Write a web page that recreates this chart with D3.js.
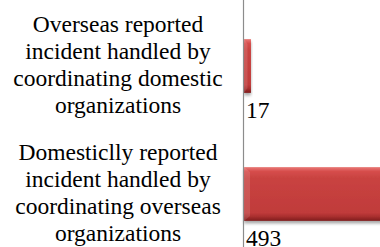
<!DOCTYPE html>
<html>
<head>
<meta charset="utf-8">
<script src="https://cdn.jsdelivr.net/npm/d3@7"></script>
<style>
  body { margin: 0; background: #fff; }
  svg { display: block; }
  text { font-family: "Liberation Serif", "Times New Roman", serif; fill: #000; }
</style>
</head>
<body>
<div id="chart"></div>
<script>
// data
const categories = [
  ["Overseas reported", "incident handled by", "coordinating domestic", "organizations"],
  ["Domesticlly reported", "incident handled by", "coordinating overseas", "organizations"]
];
const values = [17, 493];
const valueLabels = ["17", "493"];

let w = 380, h = 247;
let fontSize = 23.5, lineH = 27;

const svg = d3.select("#chart").append("svg")
  .attr("width", w)
  .attr("height", h);

let defs = svg.append("defs");

let grad = defs.append("linearGradient")
  .attr("id", "barGrad")
  .attr("x1", 0).attr("y1", 0).attr("x2", 0).attr("y2", 1);
[[0, "#e97a77"], [0.08, "#d64d4b"], [0.2, "#c94341"], [0.85, "#c03b3a"], [0.92, "#a82f2e"], [1, "#7e1f1f"]]
  .forEach(s => grad.append("stop").attr("offset", s[0]).attr("stop-color", s[1]));

let shadow = defs.append("filter")
  .attr("id", "shadow")
  .attr("x", "-10%").attr("y", "-10%").attr("width", "130%").attr("height", "140%");
shadow.append("feDropShadow")
  .attr("dx", 0).attr("dy", 2.5).attr("stdDeviation", 1.5)
  .attr("flood-color", "#000").attr("flood-opacity", 0.35);

let ids = categories.map((d, i) => i);

let yScale = d3.scaleBand()
  .domain(ids)
  .range([2, 258])
  .paddingInner(0.58)
  .paddingOuter(0.29);

let xScale = d3.scaleLinear()
  .domain([0, 500])
  .range([244, 449]);

// bars
svg.selectAll("rect.bar")
  .data(values)
  .enter()
  .append("rect")
  .attr("class", "bar")
  .attr("x", xScale(0))
  .attr("y", (d, i) => yScale(i))
  .attr("width", d => xScale(d) - xScale(0))
  .attr("height", yScale.bandwidth())
  .attr("fill", "url(#barGrad)")
  .attr("filter", "url(#shadow)");

// left bevel highlight
svg.selectAll("path.bevel")
  .data(values)
  .enter()
  .append("path")
  .attr("class", "bevel")
  .attr("d", (d, i) => {
    let x0 = xScale(0), x1 = xScale(d), y0 = yScale(i), y1 = y0 + yScale.bandwidth();
    let b = Math.min(6, (x1 - x0) / 2);
    return `M${x0},${y0}L${x0 + b},${y0 + 5}L${x0 + b},${y1 - 5}L${x0},${y1}Z`;
  })
  .attr("fill", "#fff")
  .attr("opacity", 0.12);

// axis line
svg.append("line")
  .attr("x1", xScale(0) - 0.5).attr("x2", xScale(0) - 0.5)
  .attr("y1", 0).attr("y2", h)
  .attr("stroke", "#8c8c8c")
  .attr("stroke-width", 1.2);

// category labels
let labels = svg.selectAll("text.cat")
  .data(categories)
  .enter()
  .append("text")
  .attr("class", "cat")
  .attr("text-anchor", "middle")
  .style("font-size", fontSize + "px");

labels.selectAll("tspan")
  .data((d, i) => d.map(t => ({t: t, i: i})))
  .enter()
  .append("tspan")
  .attr("x", 118)
  .attr("y", (d, j) => yScale(d.i) + yScale.bandwidth() / 2 - 34 + j * lineH)
  .text(d => d.t);

// value labels
svg.selectAll("text.val")
  .data(valueLabels)
  .enter()
  .append("text")
  .attr("class", "val")
  .attr("x", xScale(0) + 2)
  .attr("y", (d, i) => yScale(i) + yScale.bandwidth() + 25)
  .style("font-size", fontSize + "px")
  .text(d => d);
</script>
</body>
</html>
